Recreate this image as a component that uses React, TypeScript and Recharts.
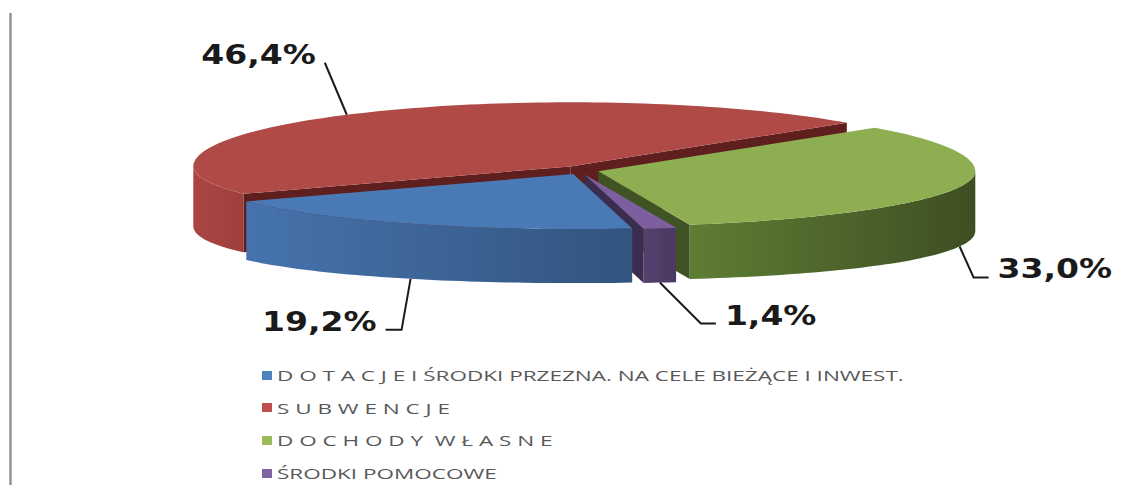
import React from "react";
import { PieChart, Pie } from "recharts";

// legend order (Excel series order)
const CATEGORIES = [
  "D O T A C J E I ŚRODKI PRZEZNA. NA CELE BIEŻĄCE I INWEST.",
  "S U B W E N C J E",
  "D O C H O D Y  W Ł A S N E",
  "ŚRODKI POMOCOWE",
];
const VALUES = [19.2, 46.4, 33.0, 1.4];

const TOP_COLORS = ["#4A7AB5", "#B04A47", "#8DAE51", "#7D5FA0"];
const WALL_LEFT = ["#4673AD", "#AA4542", "#5E7D34", "#55416F"];
const WALL_RIGHT = ["#32547E", "#9E403D", "#3E4E22", "#4A3961"];
const CUT_COLORS = ["#2F4D75", "#5E1F1E", "#405324", "#3B2D4F"];
const LEGEND_COLORS = ["#4F81BD", "#C0504D", "#9BBB59", "#8064A2"];

// painter order: back slice first, keeps the cyclic order of the slices
const DRAW_ORDER = [1, 2, 3, 0];

// label leader: [dx, dy] from anchor to elbow, then horizontal run
const LEADERS: Record<number, { dx: number; dy: number; run: number }> = {
  0: { dx: -9, dy: 51, run: -16 },
  1: { dx: -22, dy: -52, run: 0 },
  2: { dx: 14, dy: 31, run: 15 },
  3: { dx: 41, dy: 41, run: 15 },
};

const CX = 581;
const CY = 170;
const RX = 377;
const TILT_BACK = 0.17;
const TILT_FRONT = 0.146;
const EXPLODE = 18;
const EXPLODE_Y = 0.25;
const FIRST_SLICE = -81; // where the first series starts (deg, recharts convention)

const total = VALUES.reduce((a, b) => a + b, 0);
const START = FIRST_SLICE - (VALUES[0] / total) * 360;

const pieData = DRAW_ORDER.map((i) => ({ name: CATEGORIES[i], value: VALUES[i], idx: i }));

const rad = (d: number) => (d * Math.PI) / 180;
const depth = (deg: number) => 54 + 6 * Math.cos(rad(deg)) ** 2;

function pt(cx: number, cy: number, r: number, deg: number, ox: number, oy: number, down = false) {
  const s = Math.sin(rad(deg));
  const ry = r * (s > 0 ? TILT_BACK : TILT_FRONT);
  return [cx + r * Math.cos(rad(deg)) + ox, cy - ry * s + oy + (down ? depth(deg) : 0)];
}

function arc(cx: number, cy: number, r: number, from: number, to: number, ox: number, oy: number, down = false) {
  const n = Math.max(2, Math.ceil(Math.abs(to - from) / 1.5) + 1);
  const out: number[][] = [];
  for (let k = 0; k < n; k++) {
    out.push(pt(cx, cy, r, from + ((to - from) * k) / (n - 1), ox, oy, down));
  }
  return out;
}

const toPath = (pts: number[][]) =>
  pts.map((p, k) => `${k ? "L" : "M"}${p[0].toFixed(1)},${p[1].toFixed(1)}`).join(" ") + " Z";

function geom(p: any) {
  const a0 = Math.min(p.startAngle, p.endAngle);
  const a1 = Math.max(p.startAngle, p.endAngle);
  const mid = (a0 + a1) / 2;
  const ox = EXPLODE * Math.cos(rad(mid));
  const oy = -EXPLODE * EXPLODE_Y * Math.sin(rad(mid));
  const idx = p.idx ?? p.payload?.idx ?? 0;
  return { a0, a1, mid, ox, oy, idx, cx: p.cx, cy: p.cy, r: p.outerRadius };
}

function renderSides(p: any) {
  const { a0, a1, ox, oy, idx, cx, cy, r } = geom(p);
  const c = [cx + ox, cy + oy];
  const parts: React.ReactNode[] = [];
  const face = (a: number, key: string) => {
    const e = pt(cx, cy, r, a, ox, oy);
    const d = depth(a);
    parts.push(
      <path
        key={key}
        d={toPath([c, e, [e[0], e[1] + d], [c[0], c[1] + d]])}
        fill={CUT_COLORS[idx]}
      />
    );
  };
  if (Math.cos(rad(a0)) > 0) face(a0, "f0");
  if (Math.cos(rad(a1)) < 0) face(a1, "f1");
  const gid = `wall-${idx}`;
  for (let k = -3; k <= 2; k++) {
    const lo = Math.max(a0, k * 360 - 180);
    const hi = Math.min(a1, k * 360);
    if (hi - lo > 0.01) {
      const pts = arc(cx, cy, r, lo, hi, ox, oy).concat(arc(cx, cy, r, hi, lo, ox, oy, true));
      parts.push(<path key={`w${k}`} d={toPath(pts)} fill={`url(#${gid})`} />);
    }
  }
  return (
    <g key={`s${idx}`}>
      <defs>
        <linearGradient id={gid} x1="0" y1="0" x2="1" y2="0">
          <stop offset="0%" stopColor={WALL_LEFT[idx]} />
          <stop offset="100%" stopColor={WALL_RIGHT[idx]} />
        </linearGradient>
      </defs>
      {parts}
    </g>
  );
}

function renderTop(p: any) {
  const { a0, a1, ox, oy, idx, cx, cy, r } = geom(p);
  const pts = [[cx + ox, cy + oy]].concat(arc(cx, cy, r, a0, a1, ox, oy));
  return <path key={`t${idx}`} d={toPath(pts)} fill={TOP_COLORS[idx]} />;
}

function renderLabel(p: any) {
  const { mid, ox, oy, idx, cx, cy, r } = geom(p);
  const front = Math.sin(rad(mid)) < 0;
  const a = pt(cx, cy, r, mid, ox, oy, front);
  const L = LEADERS[idx];
  const ex = a[0] + L.dx;
  const ey = a[1] + L.dy;
  const hx = ex + L.run;
  const right = L.dx > 0;
  const tx = right ? hx + 9 : hx - 9;
  const text = ((p.percent ?? VALUES[idx] / total) * 100).toFixed(1).replace(".", ",");
  return (
    <g key={`l${idx}`}>
      <polyline
        points={`${a[0]},${a[1]} ${ex},${ey} ${hx},${ey}`}
        fill="none"
        stroke="#1a1a1a"
        strokeWidth={2}
      />
      <text
        x={0}
        y={0}
        transform={`translate(${tx},${ey + 1}) scale(1.27,1)`}
        textAnchor={right ? "start" : "end"}
        fontFamily="DejaVu Sans"
        fontWeight="bold"
        fontSize={26}
        fill="#1a1a1a"
      >
        {text}%
      </text>
    </g>
  );
}

const pieCommon = {
  data: pieData,
  dataKey: "value",
  nameKey: "name",
  cx: CX,
  cy: CY,
  innerRadius: 0,
  outerRadius: RX,
  startAngle: START,
  endAngle: START - 360,
  fill: "transparent",
  stroke: "none",
  isAnimationActive: false,
  labelLine: false,
};

export default function App() {
  return (
    <div
      style={{
        position: "absolute",
        left: 0,
        top: 0,
        width: 1131,
        height: 485,
        background: "#fff",
        overflow: "hidden",
      }}
    >
      <div
        style={{
          position: "absolute",
          left: 9,
          top: 13,
          width: 3,
          height: 472,
          background: "linear-gradient(to right, #c4c4c4, #8c8c8c, #c4c4c4)",
        }}
      />
      <div style={{ position: "absolute", left: 0, top: 0 }}>
        <PieChart width={1131} height={485} margin={{ top: 0, right: 0, bottom: 0, left: 0 }}>
          <Pie {...(pieCommon as any)} label={renderSides} />
          <Pie {...(pieCommon as any)} label={renderTop} />
          <Pie {...(pieCommon as any)} label={renderLabel} />
        </PieChart>
      </div>
      {CATEGORIES.map((name, i) => (
        <div
          key={name}
          style={{
            position: "absolute",
            left: 262,
            top: 366 + i * 32.7,
            height: 18,
            display: "flex",
            alignItems: "center",
            whiteSpace: "pre",
          }}
        >
          <div style={{ width: 10, height: 9, background: LEGEND_COLORS[i], marginRight: 5 }} />
          <span
            style={{
              fontFamily: "Open Sans",
              fontSize: 15,
              color: "#585858",
              display: "inline-block",
              transform: "scaleX(1.5)",
              transformOrigin: "left center",
            }}
          >
            {name}
          </span>
        </div>
      ))}
    </div>
  );
}
